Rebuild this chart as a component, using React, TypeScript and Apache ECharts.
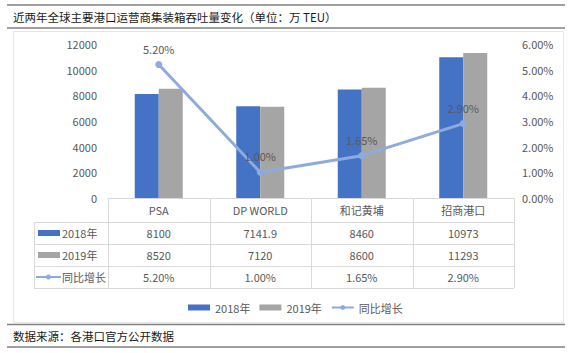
import React, { useEffect, useRef } from "react";
import * as echarts from "echarts";

const categories = ["PSA", "DP WORLD", "和记黄埔", "招商港口"];
const values2018 = [8100, 7141.9, 8460, 10973];
const values2019 = [8520, 7120, 8600, 11293];
const growth = [5.2, 1.0, 1.65, 2.9];
const seriesNames = ["2018年", "2019年", "同比增长"];
const leftTicks = { min: 0, max: 12000, interval: 2000 };
const rightTicks = { min: 0, max: 6, interval: 1 };
const titleText = "近两年全球主要港口运营商集装箱吞吐量变化（单位：万 TEU）";
const sourceText = "数据来源：各港口官方公开数据";

const FONT = "Noto Sans CJK SC, Noto Sans, sans-serif";
const BLUE = "#4472C4";
const GRAY = "#A5A5A5";
const LINEC = "#8FAADC";
const TXT = "#595959";
const TBL = "#D9D9D9";

export default function App() {
  const ref = useRef<HTMLDivElement>(null);
  useEffect(() => {
    if (!ref.current) return;
    const chart = echarts.init(ref.current, null, { renderer: "svg" });
    const GL = 108, GR = 514, GT = 44, GB = 198;
    const colW = (GR - GL) / categories.length;
    const rowY = [GB, 222, 244, 266, 288];
    const tableLeft = 34;
    const graphic: any[] = [];
    const hline = (x1: number, x2: number, y: number, color: string, w: number) =>
      graphic.push({ type: "line", shape: { x1, y1: y, x2, y2: y }, style: { stroke: color, lineWidth: w }, silent: true });
    const vline = (x: number, y1: number, y2: number) =>
      graphic.push({ type: "line", shape: { x1: x, y1, x2: x, y2 }, style: { stroke: TBL, lineWidth: 1 }, silent: true });
    hline(7, 565, 5, "#808080", 1.5);
    hline(7, 565, 28, "#808080", 1.5);
    hline(7, 565, 324.5, "#808080", 1.5);
    hline(7, 565, 347, "#808080", 1.5);
    graphic.push({ type: "rect", shape: { x: 13.5, y: 31.5, width: 550, height: 291 }, style: { fill: "none", stroke: "#E6E6E6", lineWidth: 1 }, silent: true });
    graphic.push({ type: "text", x: 13, y: 16.5, style: { text: titleText, font: `11.5px ${FONT}`, fill: "#1a1a1a", verticalAlign: "middle" } });
    graphic.push({ type: "text", x: 13, y: 335.5, style: { text: sourceText, font: `11.5px ${FONT}`, fill: "#1a1a1a", verticalAlign: "middle" } });
    for (let i = 1; i < rowY.length; i++) hline(tableLeft, GR, rowY[i] + 0.5, TBL, 1);
    vline(tableLeft + 0.5, rowY[1], rowY[4]);
    for (let c = 0; c <= categories.length; c++) vline(Math.round(GL + c * colW) + 0.5, GB, rowY[4]);
    // row labels
    const rowCenters = [233, 255, 277];
    graphic.push({ type: "rect", shape: { x: 38, y: rowCenters[0] - 3, width: 22, height: 6 }, style: { fill: BLUE } });
    graphic.push({ type: "rect", shape: { x: 38, y: rowCenters[1] - 3, width: 22, height: 6 }, style: { fill: GRAY } });
    graphic.push({ type: "line", shape: { x1: 36, y1: rowCenters[2], x2: 61, y2: rowCenters[2] }, style: { stroke: LINEC, lineWidth: 2 } });
    graphic.push({ type: "circle", shape: { cx: 48.5, cy: rowCenters[2], r: 2.5 }, style: { fill: LINEC } });
    seriesNames.forEach((n, i) => {
      graphic.push({ type: "text", x: 62, y: rowCenters[i], style: { text: n, font: `11px ${FONT}`, fill: TXT, verticalAlign: "middle" } });
    });

    const rowAxis = (data: string[], offset: number) => ({
      type: "category",
      data: categories,
      position: "bottom",
      offset,
      axisLine: { show: false },
      axisTick: { show: false },
      axisLabel: {
        margin: 5,
        fontSize: 11,
        color: TXT,
        fontFamily: FONT,
        formatter: (_v: string, idx: number) => data[idx],
      },
    });

    chart.setOption({
      animation: false,
      grid: { left: GL, right: 573 - GR, top: GT, bottom: 353 - GB },
      legend: {
        left: 183,
        top: 297,
        itemWidth: 22,
        itemHeight: 6,
        itemGap: 9,
        textStyle: { fontSize: 11, color: TXT, fontFamily: FONT },
        data: [
          { name: seriesNames[0], icon: "rect" },
          { name: seriesNames[1], icon: "rect" },
          { name: seriesNames[2] },
        ],
      },
      graphic,
      xAxis: [
        {
          type: "category",
          data: categories,
          axisLine: { lineStyle: { color: TBL } },
          axisTick: { show: false },
          axisLabel: { margin: 6, fontSize: 11, color: TXT, fontFamily: FONT },
        },
        rowAxis(values2018.map(String), 24),
        rowAxis(values2019.map(String), 46),
        rowAxis(growth.map((v) => v.toFixed(2) + "%"), 68),
      ],
      yAxis: [
        {
          type: "value",
          ...leftTicks,
          splitLine: { show: false },
          axisLine: { show: false },
          axisTick: { show: false },
          axisLabel: {
            margin: 11,
            fontSize: 11,
            color: TXT,
            fontFamily: FONT,
            formatter: (v: number) => String(v),
          },
        },
        {
          type: "value",
          ...rightTicks,
          position: "right",
          splitLine: { show: false },
          axisLine: { show: false },
          axisTick: { show: false },
          axisLabel: {
            margin: 8,
            fontSize: 11,
            color: TXT,
            fontFamily: FONT,
            formatter: (v: number) => v.toFixed(2) + "%",
          },
        },
      ],
      series: [
        { name: seriesNames[0], type: "bar", data: values2018, barWidth: 24, barGap: "0%", itemStyle: { color: BLUE } },
        { name: seriesNames[1], type: "bar", data: values2019, barWidth: 24, barGap: "0%", itemStyle: { color: GRAY } },
        {
          name: seriesNames[2],
          type: "line",
          yAxisIndex: 1,
          data: growth,
          symbol: "circle",
          symbolSize: 7,
          lineStyle: { color: LINEC, width: 3 },
          itemStyle: { color: LINEC },
          label: {
            show: true,
            position: "top",
            distance: 7,
            fontSize: 11,
            color: TXT,
            fontFamily: FONT,
            formatter: (p: any) => p.value.toFixed(2) + "%",
          },
        },
      ],
    });
    return () => chart.dispose();
  }, []);
  return <div ref={ref} style={{ position: "fixed", left: 0, top: 0, width: 573, height: 353, background: "#fff" }} />;
}
